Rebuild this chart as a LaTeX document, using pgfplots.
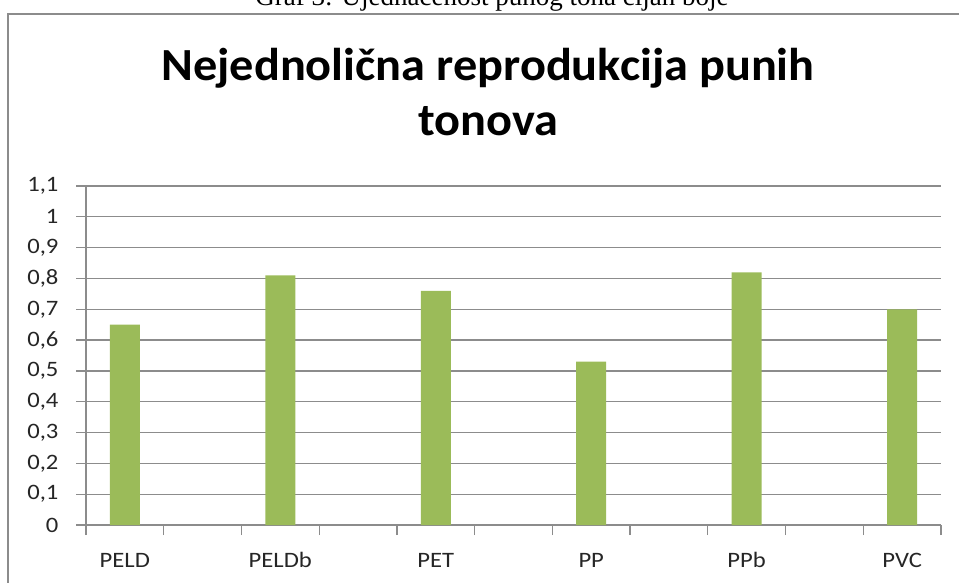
\documentclass[border=0pt]{standalone}
\usepackage{pgfplots}
\pgfplotsset{compat=1.18}
\usepackage{fontspec}
\setmainfont{Carlito}
\newfontfamily\capserif{Liberation Serif}
\newfontfamily\titlefont[FakeStretch=1.05]{Carlito}
\newfontfamily\tickfont[FakeStretch=1.12]{Carlito}
\definecolor{bargreen}{HTML}{9BBB59}
\definecolor{gridgray}{HTML}{8C8C8C}
\definecolor{txt}{HTML}{262626}
\begin{document}
\begin{tikzpicture}[x=1pt,y=1pt]
\useasboundingbox (0,0) rectangle (959,582);
\begin{scope}
\clip (0,0) rectangle (959,582);
\node[anchor=base, inner sep=0pt, font=\capserif\fontsize{27}{30}\selectfont] at (492,576) {Graf 3: Ujednačenost punog tona cijan boje};
\draw[gridgray, line width=2pt] (8,-10) -- (8,568) -- (975,568);
\end{scope}
\node[anchor=base, inner sep=0pt, font=\titlefont\bfseries\fontsize{46}{54}\selectfont] at (488,501) {Nejednolična reprodukcija punih};
\node[anchor=base, inner sep=0pt, font=\titlefont\bfseries\fontsize{46}{54}\selectfont] at (488,446) {tonova};
\begin{axis}[
  at={(86pt,57pt)}, anchor=south west,
  scale only axis, width=855pt, height=339pt,
  xmin=-0.5, xmax=10.5, ymin=0, ymax=1.1,
  axis x line*=bottom, axis y line*=left,
  axis line style={gridgray, line width=1.3pt},
  ymajorgrids, grid style={gridgray, line width=1.3pt},
  tick align=outside, major tick length=10pt,
  tick style={gridgray, line width=1.3pt},
  ytick={0,0.1,0.2,0.3,0.4,0.5,0.6,0.7,0.8,0.9,1,1.1},
  yticklabel style={anchor=east, xshift=-14pt, /pgf/number format/use comma, /pgf/number format/fixed, /pgf/number format/precision=1},
  xtick={-0.5,0.5,1.5,2.5,3.5,4.5,5.5,6.5,7.5,8.5,9.5,10.5},
  xticklabels={{},{},{},{},{},{},{},{},{},{},{},{}},
  extra x ticks={0,2,4,6,8,10},
  extra x tick labels={PELD,PELDb,PET,PP,PPb,PVC},
  extra x tick style={major tick length=0pt, xticklabel style={anchor=base, yshift=-42pt}},
  ticklabel style={font=\tickfont\fontsize{22}{24}\selectfont, text=txt},
  /pgf/number format/assume math mode=true,
]
\addplot[ybar, bar width=30pt, fill=bargreen, draw=none] coordinates {(0,0.65) (2,0.81) (4,0.76) (6,0.53) (8,0.82) (10,0.70)};
\end{axis}
\end{tikzpicture}
\end{document}
